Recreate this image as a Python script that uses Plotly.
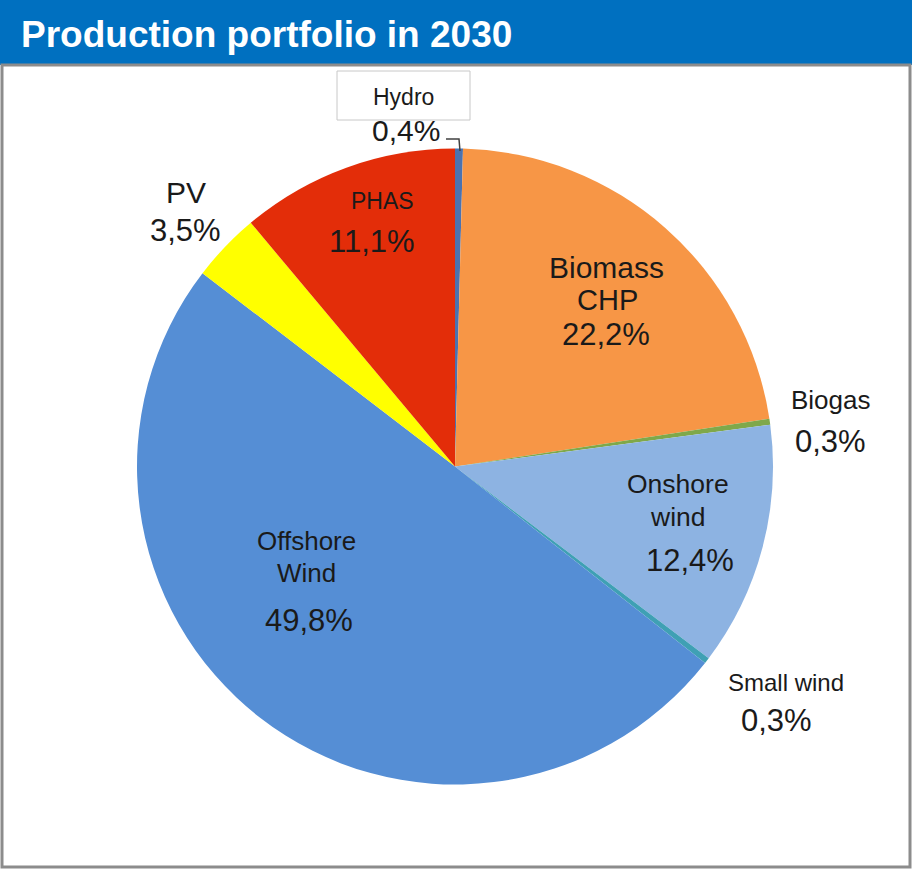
import plotly.graph_objects as go

W, H = 912, 869

# Production shares in 2030 (%), clockwise from 12 o'clock
sources = ["Hydro", "Biomass CHP", "Biogas", "Onshore wind", "Small wind",
           "Offshore Wind", "PV", "PHAS"]
shares = [0.4, 22.2, 0.3, 12.4, 0.3, 49.8, 3.5, 11.1]
colors = ["#4A72B0", "#F79646", "#7FA84A", "#8DB3E2", "#3FA0B4",
          "#558ED5", "#FFFF00", "#E32D09"]


def px(x):
    return x / W


def py(y):
    return 1 - y / H


def pct(v):
    return f"{v:.1f}%".replace(".", ",")


share = dict(zip(sources, shares))

# pie geometry in pixels
cx, cy, r = 455, 466.5, 318

fig = go.Figure(go.Pie(
    labels=sources,
    values=shares,
    marker=dict(colors=colors, line=dict(width=0)),
    sort=False,
    direction="clockwise",
    rotation=0,
    textinfo="none",
    hoverinfo="label+percent",
    showlegend=False,
    domain=dict(x=[px(cx - r), px(cx + r)], y=[py(cy + r), py(cy - r)]),
))

FONT = "Liberation Sans, Arial, sans-serif"

# (text, x, y, size)
labels = [
    ("PV", 186, 193, 30), (pct(share["PV"]), 185, 230, 31),
    ("PHAS", 382, 201, 23), (pct(share["PHAS"]), 372, 241, 31),
    ("Biomass", 606, 267, 30), ("CHP", 607, 300, 29),
    (pct(share["Biomass CHP"]), 606, 334, 31),
    ("Biogas", 831, 400, 26), (pct(share["Biogas"]), 830, 441, 31),
    ("Onshore", 678, 484, 26.5), ("wind", 678, 517, 26.5),
    (pct(share["Onshore wind"]), 690, 560, 31),
    ("Small wind", 786, 682, 24), (pct(share["Small wind"]), 776, 720, 31),
    ("Offshore", 306, 541, 26), ("Wind", 306, 573, 26),
    (pct(share["Offshore Wind"]), 309, 620, 31),
    ("Hydro", 403, 97, 23), (pct(share["Hydro"]), 406, 131, 30),
]

annotations = [
    dict(text=t, x=px(x), y=py(y), xref="paper", yref="paper",
         showarrow=False, xanchor="center", yanchor="middle",
         font=dict(family=FONT, size=s, color="#1a1a1a"))
    for t, x, y, s in labels
]

annotations.append(dict(
    text="<b>Production portfolio in 2030</b>", x=px(19), y=py(34),
    xref="paper", yref="paper", showarrow=False,
    xanchor="left", yanchor="middle",
    font=dict(family=FONT, size=37, color="white")))

shapes = [
    # title bar
    dict(type="rect", xref="paper", yref="paper",
         x0=0, x1=1, y0=py(65), y1=1,
         fillcolor="#0070C0", line=dict(width=0), layer="below"),
    # frame
    dict(type="rect", xref="paper", yref="paper",
         x0=px(2), x1=px(910), y0=py(867), y1=py(65),
         line=dict(color="#8C8C8C", width=3), layer="below"),
    # hydro label box
    dict(type="rect", xref="paper", yref="paper",
         x0=px(337), x1=px(470), y0=py(120), y1=py(71),
         fillcolor="white", line=dict(color="#C8C8C8", width=1),
         layer="below"),
    # hydro leader line
    dict(type="path", xref="paper", yref="paper",
         path=(f"M {px(446)} {py(139)} L {px(459)} {py(139)} "
               f"L {px(460)} {py(151)}"),
         line=dict(color="#404040", width=1.5)),
]

fig.update_layout(
    width=W, height=H,
    margin=dict(l=0, r=0, t=0, b=0),
    paper_bgcolor="white",
    plot_bgcolor="white",
    annotations=annotations,
    shapes=shapes,
)

fig.write_html("out.html")
